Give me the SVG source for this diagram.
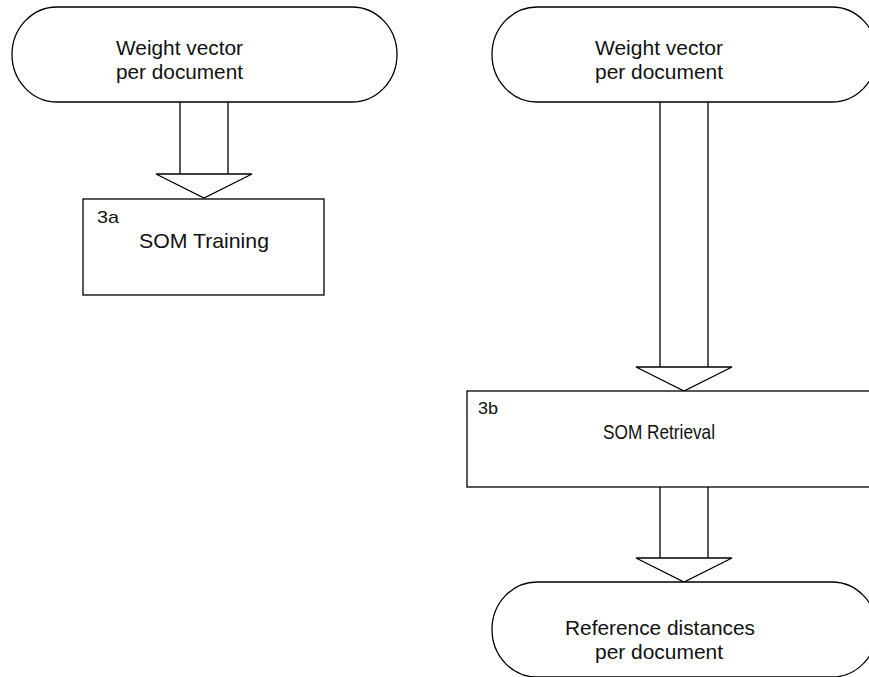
<svg xmlns="http://www.w3.org/2000/svg" width="869" height="677" viewBox="0 0 869 677">
  <style>
    .shape { fill: #fff; stroke: #000; stroke-width: 1.3; }
    .line { fill: none; stroke: #000; stroke-width: 1.3; }
    text { font-family: "Liberation Sans", Arial, sans-serif; fill: #111; }
    .lbl { font-size: 21px; text-anchor: middle; }
    .tag { font-size: 17px; }
  </style>
  <rect width="869" height="677" fill="#fff"/>

  <!-- block arrows between the steps -->
  <g id="connectors">
    <path class="line" d="M180,102 V174 M228,102 V174"/>
    <path class="shape" d="M156,174 H252 L204,198 Z"/>
    <path class="line" d="M660,102 V367 M708,102 V367"/>
    <path class="shape" d="M636,367 H732 L684,391 Z"/>
    <path class="line" d="M660,487 V558 M708,487 V558"/>
    <path class="shape" d="M636,558 H732 L684,582 Z"/>
  </g>

  <g id="input-left">
    <rect class="shape" x="12" y="7" width="385" height="95" rx="45" ry="47.5"/>
    <text class="lbl" x="179.5" y="55" textLength="127" lengthAdjust="spacingAndGlyphs">Weight vector</text>
    <text class="lbl" x="179.5" y="79" textLength="127" lengthAdjust="spacingAndGlyphs">per document</text>
  </g>

  <g id="som-training">
    <rect class="shape" x="83" y="199" width="241" height="96"/>
    <text class="tag" x="97" y="223" textLength="22" lengthAdjust="spacingAndGlyphs">3a</text>
    <text class="lbl" x="204" y="248" textLength="130" lengthAdjust="spacingAndGlyphs">SOM Training</text>
  </g>

  <g id="input-right">
    <rect class="shape" x="492" y="7" width="385" height="95" rx="45" ry="47.5"/>
    <text class="lbl" x="659" y="55" textLength="128" lengthAdjust="spacingAndGlyphs">Weight vector</text>
    <text class="lbl" x="659" y="79" textLength="128" lengthAdjust="spacingAndGlyphs">per document</text>
  </g>

  <g id="som-retrieval">
    <rect class="shape" x="467" y="391" width="434" height="96"/>
    <text class="tag" x="478" y="414" textLength="20" lengthAdjust="spacingAndGlyphs">3b</text>
    <text class="lbl" x="659" y="439" textLength="112" lengthAdjust="spacingAndGlyphs">SOM Retrieval</text>
  </g>

  <g id="output-distances">
    <rect class="shape" x="492" y="582" width="385" height="95" rx="45" ry="47.5"/>
    <text class="lbl" x="660" y="635" textLength="190" lengthAdjust="spacingAndGlyphs">Reference distances</text>
    <text class="lbl" x="659" y="659" textLength="128" lengthAdjust="spacingAndGlyphs">per document</text>
  </g>
</svg>
